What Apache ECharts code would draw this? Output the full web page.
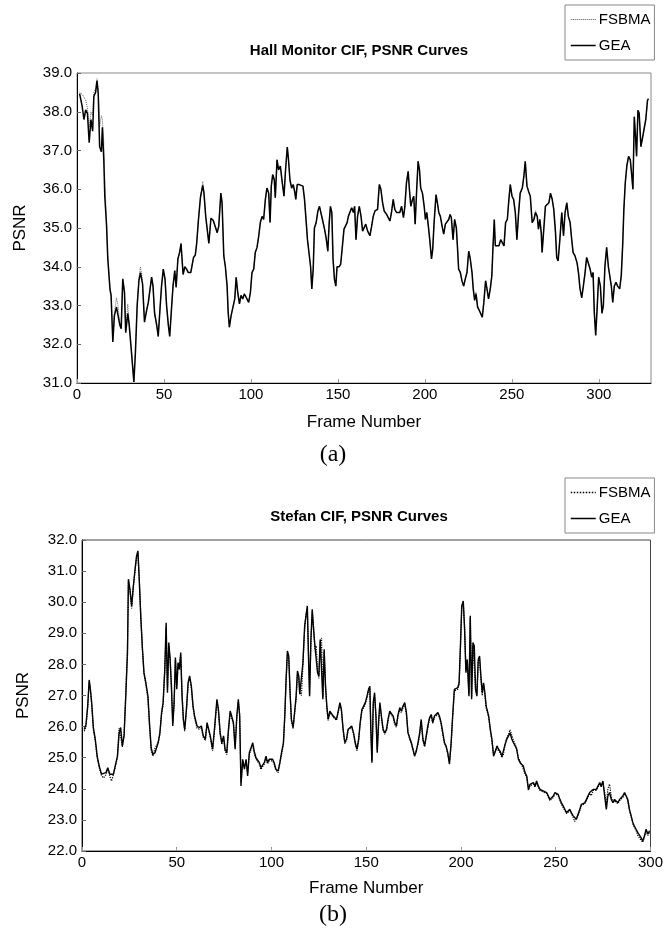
<!DOCTYPE html>
<html><head><meta charset="utf-8">
<script src="https://cdn.jsdelivr.net/npm/echarts@6/dist/echarts.min.js"></script>
<style>html,body{margin:0;padding:0;background:#fff}#c{width:666px;height:931px}</style>
</head><body><div id="c"></div>
<script>
const seriesNames = ["FSBMA", "GEA"];
const titleA = "Hall Monitor CIF, PSNR Curves";
const titleB = "Stefan CIF, PSNR Curves";

const hallFrames = [1.5,3,4,5,6,7,8,9,9.7,10.7,
11.5,12.2,13,14,14.6,15.4,16,17,17.7,19,
19.6,20.6,21.5,22.7,23.6,24.6,25.4,26.3,27.3,28,
29.2,30,31.3,32.7,33.6,34.6,35.6,36.5,37.7,38.8,
40,41,42,42.9,43.7,44.6,45.8,46.7,47.7,48.6,
49.6,50.6,51.5,52.5,53.3,54.2,55.2,56.2,57,58,
59,59.8,61,62,63,64,65.4,67,68,68.8,
69.8,71,72.3,73,74,75,75.8,77,78.3,79.4,
80.6,81.5,82.7,83.4,84.4,85.3,86.3,86.9,87.6,88.6,
89.5,90.7,91.5,92.4,93.4,94.3,95.3,96.2,97.4,98.7,
99.7,100.6,101.6,102.5,103.5,104.5,105.4,106.4,107.3,108.3,
109.2,110.2,111,111.7,112.5,113.4,114,115,115.9,116.9,
117.8,119,119.9,120.9,121.6,122.4,123.4,124.3,125.1,125.8,
126.6,127.8,128.9,129.9,130.8,131.8,132.5,133.5,134.3,135,
135.8,136.5,137.5,138.5,139.4,140.4,141.3,142.3,143.2,144.2,
145,145.7,146.5,147.2,148,148.8,149.5,150.7,151.6,152.6,
153.5,154.5,155.3,156,157,157.9,158.9,159.6,160.4,161.3,
162.3,163.3,164.2,165,166,167.1,168.4,169.4,170.3,171.3,
172.8,173.8,174.7,175.7,176.6,178,178.9,179.9,180.8,181.8,
182.7,183.7,184.7,185.6,186.6,187.7,188.5,189.4,190.4,191.1,
191.9,192.9,193.6,194.4,195.3,196.1,196.9,197.6,198.6,199.6,
200.3,201.1,202,202.8,203.8,204.5,205.3,206.4,207.2,208,
208.9,209.9,210.8,211.8,212.7,213.7,214.5,215.2,216.2,217.1,
218.1,218.8,219.4,220.4,221.3,222.3,223.2,224.2,225.2,226.1,
227.1,227.8,228.6,229.4,230.3,231.3,232,233,233.9,234.9,
235.7,236.6,237.6,238.5,239.1,239.9,240.5,241.5,242.6,243.6,
244.5,245.5,246.4,247.4,248.3,249.1,250.1,251,252,252.9,
253.9,254.8,256,256.9,257.7,258.7,259.6,260.6,261.7,262.7,
263.6,264.6,265.3,266.1,266.9,267.4,268.4,269.3,270.3,271.3,
272.2,273.2,274.1,275.1,275.8,276.6,277.6,278.7,279.7,280.6,
281.6,282.5,283.5,284.2,285.2,286.3,287.5,288.3,289.2,290.2,
291.1,292.1,293,294,295,295.9,296.7,297.4,298.2,299,
299.9,300.9,301.8,302.6,303.5,304.5,305.5,306.4,307.2,308,
308.9,309.9,310.8,312,312.9,313.7,314.4,315.2,316.1,317.1,
318.1,318.8,319.6,320.4,321.1,321.7,322.5,323.2,324.2,325.1,
326.1,327,328,328.6];

const hallGEA = [38.47,38.13,37.8,38.05,37.96,37.2,37.8,37.5,38.4,38.5,
38.8,38.47,37.1,36.97,37.6,36.76,35.8,35.05,34.2,33.4,
33.26,32.06,32.74,32.96,32.96,32.5,32.4,33.68,33.34,32.3,
32.8,32.5,31.8,31.03,31.8,33.0,33.64,33.85,33.55,32.57,
32.87,33.08,33.08,33.73,33.5,32.8,32.5,32.2,32.9,33.5,
33.94,33.68,33.0,32.5,32.2,32.83,33.5,33.9,33.47,34.2,
34.37,34.6,33.8,34.0,33.94,33.85,33.85,34.24,34.3,34.6,
35.2,35.8,36.1,35.9,35.3,35.3,34.6,35.25,35.2,35.2,
34.88,35.05,35.9,35.65,34.28,34.0,33.5,32.83,32.44,32.74,
32.7,33.17,33.73,33.34,33.04,33.26,33.17,33.3,33.2,33.08,
33.34,33.85,33.94,34.37,34.5,34.8,35.14,35.3,35.22,35.74,
36.03,35.9,35.14,36.08,36.38,36.25,35.78,36.76,36.5,36.6,
36.25,35.82,36.5,37.09,36.76,36.25,36.03,36.12,35.95,35.74,
36.12,36.12,36.16,36.08,35.74,35.14,34.7,34.67,34.0,33.43,
33.94,35.0,35.14,35.44,35.56,35.56,35.18,34.97,34.75,34.4,
35.14,35.56,35.4,34.2,33.68,33.5,34.0,34.0,34.07,34.54,
34.97,34.92,35.14,35.3,35.3,35.52,35.4,35.56,34.7,35.3,
35.56,35.3,34.92,34.88,35.1,34.92,34.8,35.05,35.3,35.44,
35.48,36.12,36.0,35.65,35.44,35.35,35.3,35.18,35.4,35.74,
35.48,35.4,35.44,35.4,35.56,35.27,35.56,36.16,36.46,36.0,
35.56,35.74,35.82,35.1,36.0,36.72,36.5,36.03,35.9,35.56,
35.22,35.4,35.05,34.7,34.2,34.45,35.14,35.86,35.65,35.4,
35.3,35.05,34.84,35.1,35.05,35.22,35.35,35.27,34.7,35.22,
35.0,34.45,33.94,33.85,33.64,33.5,33.68,33.85,34.4,34.2,
33.85,33.43,33.13,33.3,32.96,32.87,32.8,32.7,33.08,33.64,
33.43,33.17,33.43,33.77,34.45,35.22,34.54,34.5,34.54,34.7,
34.67,34.54,35.14,35.22,35.74,36.12,35.82,35.74,35.4,34.7,
35.4,35.9,36.03,36.33,36.72,36.08,35.95,35.82,35.14,35.22,
35.4,35.3,34.97,35.22,34.88,34.37,34.32,35.56,35.6,35.65,
35.9,35.74,35.48,34.88,34.24,34.15,34.7,35.4,34.8,35.4,
35.65,35.3,35.14,34.8,34.37,34.28,34.1,33.85,33.43,33.2,
33.5,33.85,34.24,34.2,33.94,33.73,33.85,32.83,32.23,32.9,
33.73,33.5,32.8,33.0,34.0,34.5,34.0,33.98,33.5,33.08,
33.5,33.6,33.5,33.43,33.77,34.54,35.48,36.16,36.6,36.85,
36.76,36.42,36.0,37.87,37.36,36.85,38.04,37.96,37.1,37.32,
37.28,37.8,38.3,38.34];

const hallFSBMA = [38.5,38.45,38.4,38.3,38.1,37.6,38.0,37.9,38.5,38.6,
38.85,38.6,37.6,37.9,37.8,37.2,36.2,35.2,34.3,33.45,
33.3,32.1,32.8,33.2,33.0,32.55,32.45,33.7,33.4,32.35,
33.04,32.55,31.85,31.03,31.85,33.05,33.7,34.0,33.6,32.6,
32.87,33.08,33.08,33.73,33.5,32.8,32.5,32.2,32.9,33.5,
33.94,33.68,33.0,32.5,32.2,32.83,33.5,33.9,33.47,34.2,
34.37,34.6,33.8,34.0,33.94,33.85,33.85,34.24,34.3,34.6,
35.2,35.8,36.2,35.9,35.3,35.3,34.6,35.25,35.2,35.2,
34.88,35.05,35.9,35.65,34.28,34.0,33.5,32.83,32.44,32.74,
32.7,33.17,33.73,33.34,33.04,33.26,33.17,33.3,33.2,33.08,
33.34,33.85,33.94,34.37,34.5,34.8,35.14,35.3,35.22,35.74,
36.03,35.9,35.14,36.08,36.38,36.25,35.78,36.76,36.5,36.6,
36.25,35.82,36.5,37.09,36.76,36.25,36.03,36.12,35.95,35.74,
36.12,36.12,36.16,36.08,35.74,35.14,34.7,34.67,34.0,33.43,
33.94,35.0,35.14,35.44,35.56,35.56,35.18,34.97,34.75,34.4,
35.14,35.56,35.4,34.2,33.68,33.5,34.0,34.0,34.07,34.54,
34.97,34.92,35.14,35.3,35.3,35.52,35.4,35.56,34.7,35.3,
35.56,35.3,34.92,34.88,35.1,34.92,34.8,35.05,35.3,35.44,
35.48,36.12,36.0,35.65,35.44,35.35,35.3,35.18,35.4,35.74,
35.48,35.4,35.44,35.4,35.56,35.27,35.56,36.16,36.46,36.0,
35.56,35.74,35.82,35.1,36.0,36.72,36.5,36.03,35.9,35.56,
35.22,35.4,35.05,34.7,34.2,34.45,35.14,35.86,35.65,35.4,
35.3,35.05,34.84,35.1,35.05,35.22,35.35,35.27,34.7,35.22,
35.0,34.45,33.94,33.85,33.64,33.5,33.68,33.85,34.4,34.2,
33.85,33.43,33.2,33.35,33.0,32.87,32.8,32.7,33.08,33.64,
33.43,33.17,33.43,33.77,34.45,35.22,34.54,34.5,34.54,34.7,
34.67,34.54,35.14,35.22,35.74,36.12,35.82,35.74,35.4,34.7,
35.4,35.9,36.03,36.33,36.72,36.08,35.95,35.82,35.14,35.22,
35.45,35.3,34.97,35.22,34.88,34.37,34.32,35.56,35.6,35.65,
35.9,35.74,35.48,34.88,34.24,34.15,34.7,35.4,34.8,35.4,
35.65,35.3,35.14,34.8,34.37,34.28,34.1,33.85,33.43,33.2,
33.5,33.85,34.24,34.2,33.94,33.73,33.85,32.83,32.23,32.9,
33.73,33.5,32.8,33.0,34.0,34.5,34.0,33.98,33.5,33.08,
33.5,33.6,33.5,33.43,33.77,34.54,35.48,36.16,36.6,36.85,
36.76,36.42,36.0,37.87,37.36,36.85,38.04,37.96,37.1,37.32,
37.28,37.8,38.3,38.34];

const stefanFrames = [1.2,2.1,3.0,3.8,4.4,5.1,6.0,7.0,8.0,9.1,
10.3,11.3,12.6,13.6,14.7,15.6,16.6,17.5,18.7,19.6,
20.4,21.3,22.2,23.1,24.0,24.5,25.3,26.2,27.1,28,
28.8,29.5,30.2,31,31.8,32.7,33.7,34.8,35.7,36.5,
37.4,38.5,39.3,40.2,41.1,42,42.8,43.7,44.4,45.1,
45.8,46.5,47.2,47.9,48.6,49.3,50,50.7,51.4,52.1,
52.8,53.5,54.2,55.1,56,56.8,57.7,58.6,59.4,60.7,
61.9,63,64,65.1,66,66.8,67.7,68.9,69.9,71.2,
72,72.9,73.8,74.7,75.5,76.4,77.3,78.2,79,79.9,
80.8,81.7,82.5,83.2,83.9,84.8,85.7,86.6,87.4,88.3,
89.2,90.1,90.9,91.8,92.7,93.6,94.4,95.3,96.2,97.1,
97.9,98.8,99.7,100.6,101.4,102.3,103.5,104.4,105.3,106.3,
107,107.7,108.4,109.1,109.8,110.5,111.4,112.3,113,113.7,
114.4,114.9,115.8,116.6,117.5,118.2,118.9,119.6,120.1,120.8,
121.5,122.2,122.9,123.6,124.3,125,125.7,126.4,127.1,127.8,
128.5,129.2,129.9,130.8,131.7,132.6,133.4,134.3,135.2,136.1,
136.9,137.8,138.7,139.6,140.4,141.1,142.3,143.3,144.2,145.1,
146,146.8,147.7,148.6,149.5,150.4,151.2,151.9,152.4,153,
153.7,154.4,155.1,155.8,156.5,157.2,158,158.9,159.8,160.7,
161.5,162.4,163.3,164.2,165,165.9,166.8,167.7,168.5,169.4,
170.3,171.2,172,172.9,173.8,174.7,175.5,176.4,177.3,178.2,
179,179.9,180.8,181.6,182.5,183.4,184.3,185.1,186,186.9,
187.8,188.6,189.5,190.4,191.3,192.1,193,193.9,194.8,195.6,
196.5,197.4,198.3,199,199.7,200.4,201.2,201.9,202.6,203.3,
204.2,204.9,205.6,206.3,207,207.7,208.4,209.1,209.8,210.5,
211.2,211.9,212.6,213.3,214.6,215.5,216.3,217.2,218.1,219,
219.8,220.7,221.6,222.4,223.3,224.2,225.1,225.9,226.8,227.7,
228.6,229.4,230.3,231.2,232.1,232.9,233.8,234.7,235.6,236.4,
237.3,238.2,239.1,239.9,240.8,241.7,242.6,243.4,244.3,245.2,
246.1,246.9,247.8,248.7,249.6,250.4,251.3,252.2,253,253.9,
254.8,255.7,256.5,257.4,258.3,259.2,260,260.9,261.8,262.7,
263.5,264.4,265.3,266.2,267,267.9,268.8,269.7,270.5,271.4,
272.3,273.2,274,274.9,275.8,276.7,277.5,278.4,279.3,280.2,
281,281.9,282.8,283.7,284.5,285.4,286.3,287.2,288,288.9,
289.8,290.7,291.5,292.4,293.3,294.2,295,295.9,296.8,297.7,
298.6,299.5];

const stefanGEA = [25.91,26.07,26.66,27.5,27.2,26.77,25.97,25.6,25.05,24.73,
24.47,24.41,24.52,24.68,24.47,24.41,24.47,24.73,25.05,25.8,
25.97,25.38,25.7,26.98,28.38,30.74,30.42,29.88,30.52,31.06,
31.49,31.65,30.74,29.56,28.6,27.73,27.41,26.98,26.02,25.32,
25.1,25.16,25.2,25.48,25.8,26.45,26.77,27.84,29.34,27.09,
28.7,28.16,27.3,26.02,26.77,28.22,27.2,28.06,27.84,28.38,
26.98,26.23,25.91,26.55,27.41,27.63,27.3,26.66,26.34,26.02,
25.97,26.02,25.7,25.6,26.13,26.13,25.7,25.27,25.91,26.88,
26.55,25.8,25.48,25.7,25.27,25.16,25.91,26.5,26.5,26.13,
25.27,26.34,26.88,26.34,24.09,24.95,24.63,24.95,24.41,25.16,
25.2,25.48,25.2,25.0,24.95,24.84,24.68,24.73,24.84,25.05,
24.84,24.95,25.0,24.95,24.84,24.63,24.57,24.84,25.16,25.48,
26.34,27.52,28.43,28.27,27.09,26.23,25.97,25.91,26.98,27.79,
27.63,27.04,27.04,28.06,29.24,29.56,29.88,28.06,26.98,28.8,
29.77,29.13,28.6,28.54,27.73,27.63,28.8,28.8,26.88,28.49,
27.3,26.66,26.23,26.5,26.45,26.34,26.29,26.23,26.5,26.77,
26.55,25.91,25.48,25.6,25.91,25.97,26.02,25.8,25.48,25.27,
25.6,26.13,26.55,26.66,26.77,26.98,27.2,27.3,25.91,24.84,
26.77,27.09,26.34,25.16,26.13,26.77,26.34,25.91,25.8,25.91,
26.23,26.5,26.55,26.34,26.13,26.02,26.39,26.61,26.5,26.66,
26.77,26.45,25.8,25.64,25.48,25.54,25.05,25.2,25.48,25.8,
26.23,25.6,25.38,25.43,26.02,26.29,26.39,26.13,26.34,26.39,
26.45,26.34,26.13,25.8,25.48,25.38,25.16,24.79,25.48,26.34,
27.2,27.25,27.25,27.41,28.6,29.88,30.04,29.13,27.73,28.16,
26.98,29.56,26.88,28.7,28.6,27.2,26.98,28.16,28.27,27.63,
27.09,27.41,27.09,26.66,26.34,25.91,25.6,25.05,25.2,25.38,
25.27,25.2,25.05,25.05,25.43,25.6,25.7,25.8,25.6,25.48,
25.38,25.27,24.95,24.84,24.79,24.73,24.52,24.41,23.98,24.14,
24.09,24.2,24.09,24.25,24.09,23.98,23.98,23.93,23.93,23.88,
23.77,23.66,23.66,23.77,23.88,23.93,23.82,23.66,23.55,23.45,
23.39,23.23,23.18,23.34,23.23,23.13,23.07,23.02,23.18,23.34,
23.5,23.55,23.55,23.66,23.77,23.88,23.82,23.98,24.04,23.98,
24.09,24.2,24.09,24.25,23.77,23.34,23.77,23.88,23.66,23.55,
23.66,23.61,23.55,23.66,23.72,23.77,23.88,23.82,23.66,23.34,
23.13,22.91,22.8,22.7,22.59,22.53,22.43,22.32,22.48,22.7,
22.55,22.65];

const stefanFSBMA = [25.85,26.0,26.6,27.45,27.25,26.7,25.9,25.55,25.0,24.68,
24.42,24.35,24.45,24.62,24.4,24.25,24.3,24.68,25.0,25.95,
25.9,25.35,25.75,27.05,28.5,30.7,30.35,29.8,30.5,31.0,
31.45,31.6,30.8,29.6,28.55,27.7,27.35,26.9,25.95,25.25,
25.05,25.3,25.3,25.5,25.75,26.4,26.7,27.9,29.2,27.2,
28.6,28.2,27.2,26.1,26.7,28.15,27.3,28.0,27.9,28.3,
27.05,26.2,25.85,26.5,27.35,27.6,27.25,26.6,26.3,25.95,
25.92,25.95,25.65,25.55,26.08,26.1,25.65,25.22,25.85,26.8,
26.5,25.75,25.42,25.65,25.22,25.1,25.85,26.45,26.45,26.08,
25.35,26.3,26.8,26.4,24.2,24.9,24.7,24.9,24.5,25.1,
25.15,25.42,25.15,24.95,24.9,24.8,24.62,24.68,24.8,25.0,
24.8,24.9,24.95,24.9,24.8,24.6,24.52,24.8,25.1,25.45,
26.3,27.45,28.35,28.2,27.15,26.2,25.92,25.88,26.9,27.7,
27.55,27.1,27.0,28.0,29.15,29.6,29.8,28.15,27.05,28.7,
29.7,29.2,28.5,28.6,27.8,27.55,28.7,28.85,26.95,28.4,
27.35,26.6,26.2,26.45,26.4,26.3,26.25,26.2,26.45,26.72,
26.5,25.88,25.45,25.55,25.88,25.92,25.98,25.75,25.45,25.22,
25.55,26.08,26.5,26.6,26.72,26.92,27.15,27.22,26.0,24.9,
26.7,27.0,26.4,25.25,26.05,26.7,26.3,25.88,25.75,25.88,
26.18,26.45,26.5,26.3,26.08,25.98,26.35,26.55,26.45,26.6,
26.72,26.4,25.85,25.6,25.45,25.5,25.1,25.15,25.42,25.75,
26.18,25.55,25.35,25.4,25.95,26.25,26.35,26.1,26.3,26.35,
26.4,26.3,26.08,25.75,25.45,25.35,25.12,24.85,25.42,26.3,
27.15,27.2,27.2,27.35,28.5,29.8,30.0,29.2,27.8,28.1,
27.05,29.5,26.95,28.6,28.65,27.15,27.05,28.1,28.2,27.55,
27.0,27.35,27.0,26.6,26.3,25.85,25.55,25.1,25.15,25.32,
25.22,25.15,25.0,25.1,25.45,25.65,25.75,25.9,25.85,25.55,
25.42,25.3,25.0,24.88,24.75,24.7,24.48,24.36,23.95,24.1,
24.05,24.15,24.05,24.2,24.05,23.95,23.95,23.9,23.88,23.85,
23.72,23.62,23.62,23.72,23.85,23.9,23.78,23.62,23.5,23.4,
23.35,23.2,23.15,23.3,23.2,23.08,22.95,22.98,23.15,23.3,
23.45,23.5,23.52,23.62,23.72,23.85,23.78,23.95,24.0,23.95,
24.05,24.15,24.05,24.2,23.9,23.5,24.0,24.15,23.75,23.55,
23.62,23.58,23.52,23.62,23.68,23.72,23.85,23.78,23.62,23.3,
23.1,22.88,22.76,22.66,22.5,22.48,22.35,22.28,22.45,22.66,
22.5,22.6];

const xTicksA = {min: 0, max: 330, interval: 50};
const xTicksB = {min: 0, max: 300, interval: 50};
const yTicksA = {min: 31, max: 39, interval: 1};
const yTicksB = {min: 22, max: 32, interval: 1};

const FONT = "'Liberation Sans', Arial, sans-serif";
const chart = echarts.init(document.getElementById('c'), null, {renderer: 'canvas'});

function pairs(xs, ys) { return xs.map((x, i) => [x, ys[i]]); }

function xAxis(idx, t) {
  return {
    type: 'value', gridIndex: idx, min: t.min, max: t.max, interval: t.interval,
    name: 'Frame Number', nameLocation: 'middle', nameGap: idx === 0 ? 31 : 29,
    nameTextStyle: {fontFamily: FONT, fontSize: 17, color: '#000'},
    axisLine: {show: true, onZero: false, lineStyle: {color: '#000', width: 1}},
    axisTick: {show: true, inside: true, length: 4, lineStyle: {color: '#999'}},
    axisLabel: {fontFamily: FONT, fontSize: 15, color: '#000', margin: 4, showMaxLabel: idx === 1},
    splitLine: {show: false}
  };
}
function yAxis(idx, t) {
  return {
    type: 'value', gridIndex: idx, min: t.min, max: t.max, interval: t.interval,
    name: 'PSNR', nameLocation: 'middle', nameGap: idx === 0 ? 48 : 50, nameRotate: 90,
    nameTextStyle: {fontFamily: FONT, fontSize: 17, color: '#000'},
    axisLine: {show: true, lineStyle: {color: '#000', width: 1}},
    axisTick: {show: true, inside: true, length: 4, lineStyle: {color: '#666'}},
    axisLabel: {fontFamily: FONT, fontSize: 15, color: '#000', margin: 5,
      formatter: v => v.toFixed(1)},
    splitLine: {show: false}
  };
}

function legendFor(top, fsbmaColor, fsbmaWidth) {
  return {
    left: 565, top: top, orient: 'vertical', itemGap: 11, itemWidth: 25, itemHeight: 14,
    padding: [7, 4, 7, 5], borderColor: '#888', borderWidth: 1, backgroundColor: '#fff',
    itemStyle: {opacity: 0},
    textStyle: {fontFamily: FONT, fontSize: 15, color: '#000', padding: [0, 0, 0, -2]},
    data: [
      {name: 'FSBMA', itemStyle: {opacity: 0}, lineStyle: {color: fsbmaColor, type: 'dotted', width: fsbmaWidth, opacity: 1}},
      {name: 'GEA', itemStyle: {opacity: 0}, lineStyle: {color: '#000', type: 'solid', width: 1.5, opacity: 1}}
    ]
  };
}

const option = {
  animation: false,
  backgroundColor: '#fff',
  title: [
    {text: titleA, left: 354, top: 38, textAlign: 'center',
     textStyle: {fontFamily: FONT, fontSize: 15, fontWeight: 'bold', color: '#000'}},
    {text: titleB, left: 354, top: 504, textAlign: 'center',
     textStyle: {fontFamily: FONT, fontSize: 15, fontWeight: 'bold', color: '#000'}}
  ],
  legend: [legendFor(5, '#555', 1), legendFor(478, '#000', 1.5)],
  grid: [
    {left: 77, right: 15, top: 73, height: 310, show: true, borderColor: '#888', borderWidth: 1},
    {left: 82, right: 15, top: 540, height: 311, show: true, borderColor: '#444', borderWidth: 1}
  ],
  xAxis: [xAxis(0, xTicksA), xAxis(1, xTicksB)],
  yAxis: [yAxis(0, yTicksA), yAxis(1, yTicksB)],
  series: [
    {name: 'GEA', type: 'line', xAxisIndex: 0, yAxisIndex: 0, symbol: 'none', z: 3,
     data: pairs(hallFrames, hallGEA), lineStyle: {color: '#000', width: 1.5}, itemStyle: {color: '#000'}},
    {name: 'FSBMA', type: 'line', xAxisIndex: 0, yAxisIndex: 0, symbol: 'none', z: 2,
     data: pairs(hallFrames, hallFSBMA), lineStyle: {color: '#666', width: 1, type: 'dotted'}, itemStyle: {color: '#666'}},
    {name: 'GEA', type: 'line', xAxisIndex: 1, yAxisIndex: 1, symbol: 'none', z: 2,
     data: pairs(stefanFrames, stefanGEA), lineStyle: {color: '#000', width: 1.4}, itemStyle: {color: '#000'}},
    {name: 'FSBMA', type: 'line', xAxisIndex: 1, yAxisIndex: 1, symbol: 'none', z: 3,
     data: pairs(stefanFrames, stefanFSBMA), lineStyle: {color: '#000', width: 1.2, type: 'dotted'}, itemStyle: {color: '#000'}}
  ],
  graphic: [
    {type: 'text', left: 'center', top: 443, style: {text: '(a)', font: "24px 'Liberation Serif', 'Times New Roman', serif", fill: '#000'}},
    {type: 'text', left: 'center', top: 903, style: {text: '(b)', font: "24px 'Liberation Serif', 'Times New Roman', serif", fill: '#000'}}
  ]
};
chart.setOption(option);
</script></body></html>
